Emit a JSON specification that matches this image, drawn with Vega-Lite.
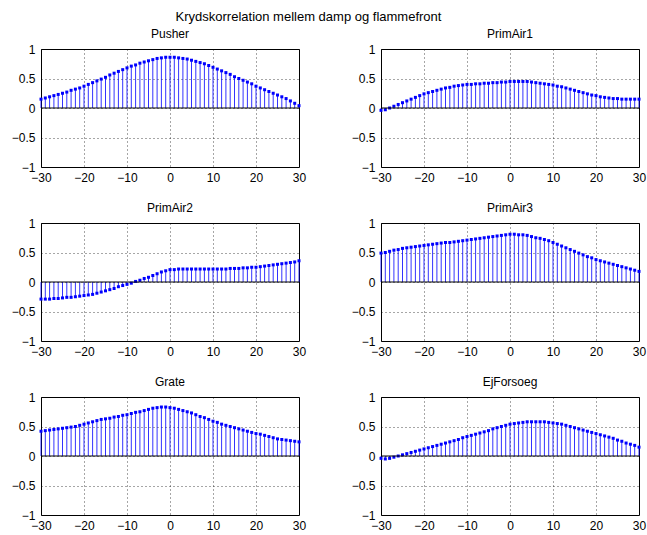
{
  "$schema": "https://vega.github.io/schema/vega-lite/v6.json",
  "background": "white",
  "padding": {"left": 10, "top": 10, "right": 5, "bottom": 5},
  "title": {"text": "Krydskorrelation mellem damp og flammefront", "fontSize": 13, "font": "Liberation Sans", "fontWeight": "normal", "anchor": "middle", "dx": -20, "offset": 4},
  "data": {"values": [
    {"p":"Pusher","x":-30,"y":0.15},{"p":"Pusher","x":-29,"y":0.17},{"p":"Pusher","x":-28,"y":0.19},{"p":"Pusher","x":-27,"y":0.21},{"p":"Pusher","x":-26,"y":0.23},{"p":"Pusher","x":-25,"y":0.25},{"p":"Pusher","x":-24,"y":0.27},{"p":"Pusher","x":-23,"y":0.30},{"p":"Pusher","x":-22,"y":0.32},{"p":"Pusher","x":-21,"y":0.34},{"p":"Pusher","x":-20,"y":0.37},{"p":"Pusher","x":-19,"y":0.40},{"p":"Pusher","x":-18,"y":0.43},{"p":"Pusher","x":-17,"y":0.46},{"p":"Pusher","x":-16,"y":0.49},{"p":"Pusher","x":-15,"y":0.52},{"p":"Pusher","x":-14,"y":0.56},{"p":"Pusher","x":-13,"y":0.59},{"p":"Pusher","x":-12,"y":0.62},{"p":"Pusher","x":-11,"y":0.65},{"p":"Pusher","x":-10,"y":0.68},{"p":"Pusher","x":-9,"y":0.71},{"p":"Pusher","x":-8,"y":0.73},{"p":"Pusher","x":-7,"y":0.76},{"p":"Pusher","x":-6,"y":0.78},{"p":"Pusher","x":-5,"y":0.80},{"p":"Pusher","x":-4,"y":0.82},{"p":"Pusher","x":-3,"y":0.84},{"p":"Pusher","x":-2,"y":0.85},{"p":"Pusher","x":-1,"y":0.86},{"p":"Pusher","x":0,"y":0.86},{"p":"Pusher","x":1,"y":0.86},{"p":"Pusher","x":2,"y":0.85},{"p":"Pusher","x":3,"y":0.84},{"p":"Pusher","x":4,"y":0.83},{"p":"Pusher","x":5,"y":0.81},{"p":"Pusher","x":6,"y":0.79},{"p":"Pusher","x":7,"y":0.77},{"p":"Pusher","x":8,"y":0.75},{"p":"Pusher","x":9,"y":0.72},{"p":"Pusher","x":10,"y":0.69},{"p":"Pusher","x":11,"y":0.66},{"p":"Pusher","x":12,"y":0.63},{"p":"Pusher","x":13,"y":0.60},{"p":"Pusher","x":14,"y":0.57},{"p":"Pusher","x":15,"y":0.53},{"p":"Pusher","x":16,"y":0.50},{"p":"Pusher","x":17,"y":0.47},{"p":"Pusher","x":18,"y":0.44},{"p":"Pusher","x":19,"y":0.41},{"p":"Pusher","x":20,"y":0.37},{"p":"Pusher","x":21,"y":0.34},{"p":"Pusher","x":22,"y":0.31},{"p":"Pusher","x":23,"y":0.28},{"p":"Pusher","x":24,"y":0.25},{"p":"Pusher","x":25,"y":0.22},{"p":"Pusher","x":26,"y":0.19},{"p":"Pusher","x":27,"y":0.16},{"p":"Pusher","x":28,"y":0.12},{"p":"Pusher","x":29,"y":0.08},{"p":"Pusher","x":30,"y":0.04},
    {"p":"PrimAir1","x":-30,"y":-0.04},{"p":"PrimAir1","x":-29,"y":-0.03},{"p":"PrimAir1","x":-28,"y":0.0},{"p":"PrimAir1","x":-27,"y":0.03},{"p":"PrimAir1","x":-26,"y":0.06},{"p":"PrimAir1","x":-25,"y":0.09},{"p":"PrimAir1","x":-24,"y":0.12},{"p":"PrimAir1","x":-23,"y":0.15},{"p":"PrimAir1","x":-22,"y":0.18},{"p":"PrimAir1","x":-21,"y":0.21},{"p":"PrimAir1","x":-20,"y":0.24},{"p":"PrimAir1","x":-19,"y":0.26},{"p":"PrimAir1","x":-18,"y":0.28},{"p":"PrimAir1","x":-17,"y":0.30},{"p":"PrimAir1","x":-16,"y":0.32},{"p":"PrimAir1","x":-15,"y":0.34},{"p":"PrimAir1","x":-14,"y":0.35},{"p":"PrimAir1","x":-13,"y":0.37},{"p":"PrimAir1","x":-12,"y":0.38},{"p":"PrimAir1","x":-11,"y":0.39},{"p":"PrimAir1","x":-10,"y":0.40},{"p":"PrimAir1","x":-9,"y":0.40},{"p":"PrimAir1","x":-8,"y":0.41},{"p":"PrimAir1","x":-7,"y":0.41},{"p":"PrimAir1","x":-6,"y":0.42},{"p":"PrimAir1","x":-5,"y":0.42},{"p":"PrimAir1","x":-4,"y":0.43},{"p":"PrimAir1","x":-3,"y":0.43},{"p":"PrimAir1","x":-2,"y":0.44},{"p":"PrimAir1","x":-1,"y":0.44},{"p":"PrimAir1","x":0,"y":0.45},{"p":"PrimAir1","x":1,"y":0.45},{"p":"PrimAir1","x":2,"y":0.45},{"p":"PrimAir1","x":3,"y":0.45},{"p":"PrimAir1","x":4,"y":0.45},{"p":"PrimAir1","x":5,"y":0.44},{"p":"PrimAir1","x":6,"y":0.43},{"p":"PrimAir1","x":7,"y":0.42},{"p":"PrimAir1","x":8,"y":0.41},{"p":"PrimAir1","x":9,"y":0.40},{"p":"PrimAir1","x":10,"y":0.39},{"p":"PrimAir1","x":11,"y":0.37},{"p":"PrimAir1","x":12,"y":0.36},{"p":"PrimAir1","x":13,"y":0.34},{"p":"PrimAir1","x":14,"y":0.32},{"p":"PrimAir1","x":15,"y":0.30},{"p":"PrimAir1","x":16,"y":0.28},{"p":"PrimAir1","x":17,"y":0.26},{"p":"PrimAir1","x":18,"y":0.24},{"p":"PrimAir1","x":19,"y":0.22},{"p":"PrimAir1","x":20,"y":0.21},{"p":"PrimAir1","x":21,"y":0.19},{"p":"PrimAir1","x":22,"y":0.18},{"p":"PrimAir1","x":23,"y":0.17},{"p":"PrimAir1","x":24,"y":0.16},{"p":"PrimAir1","x":25,"y":0.16},{"p":"PrimAir1","x":26,"y":0.15},{"p":"PrimAir1","x":27,"y":0.15},{"p":"PrimAir1","x":28,"y":0.15},{"p":"PrimAir1","x":29,"y":0.15},{"p":"PrimAir1","x":30,"y":0.15},
    {"p":"PrimAir2","x":-30,"y":-0.29},{"p":"PrimAir2","x":-29,"y":-0.29},{"p":"PrimAir2","x":-28,"y":-0.29},{"p":"PrimAir2","x":-27,"y":-0.28},{"p":"PrimAir2","x":-26,"y":-0.28},{"p":"PrimAir2","x":-25,"y":-0.27},{"p":"PrimAir2","x":-24,"y":-0.26},{"p":"PrimAir2","x":-23,"y":-0.26},{"p":"PrimAir2","x":-22,"y":-0.25},{"p":"PrimAir2","x":-21,"y":-0.24},{"p":"PrimAir2","x":-20,"y":-0.23},{"p":"PrimAir2","x":-19,"y":-0.22},{"p":"PrimAir2","x":-18,"y":-0.21},{"p":"PrimAir2","x":-17,"y":-0.19},{"p":"PrimAir2","x":-16,"y":-0.17},{"p":"PrimAir2","x":-15,"y":-0.15},{"p":"PrimAir2","x":-14,"y":-0.13},{"p":"PrimAir2","x":-13,"y":-0.11},{"p":"PrimAir2","x":-12,"y":-0.08},{"p":"PrimAir2","x":-11,"y":-0.06},{"p":"PrimAir2","x":-10,"y":-0.04},{"p":"PrimAir2","x":-9,"y":-0.02},{"p":"PrimAir2","x":-8,"y":0.01},{"p":"PrimAir2","x":-7,"y":0.03},{"p":"PrimAir2","x":-6,"y":0.06},{"p":"PrimAir2","x":-5,"y":0.08},{"p":"PrimAir2","x":-4,"y":0.11},{"p":"PrimAir2","x":-3,"y":0.14},{"p":"PrimAir2","x":-2,"y":0.17},{"p":"PrimAir2","x":-1,"y":0.19},{"p":"PrimAir2","x":0,"y":0.21},{"p":"PrimAir2","x":1,"y":0.21},{"p":"PrimAir2","x":2,"y":0.22},{"p":"PrimAir2","x":3,"y":0.22},{"p":"PrimAir2","x":4,"y":0.22},{"p":"PrimAir2","x":5,"y":0.22},{"p":"PrimAir2","x":6,"y":0.22},{"p":"PrimAir2","x":7,"y":0.22},{"p":"PrimAir2","x":8,"y":0.22},{"p":"PrimAir2","x":9,"y":0.22},{"p":"PrimAir2","x":10,"y":0.22},{"p":"PrimAir2","x":11,"y":0.22},{"p":"PrimAir2","x":12,"y":0.22},{"p":"PrimAir2","x":13,"y":0.22},{"p":"PrimAir2","x":14,"y":0.23},{"p":"PrimAir2","x":15,"y":0.23},{"p":"PrimAir2","x":16,"y":0.23},{"p":"PrimAir2","x":17,"y":0.24},{"p":"PrimAir2","x":18,"y":0.24},{"p":"PrimAir2","x":19,"y":0.25},{"p":"PrimAir2","x":20,"y":0.25},{"p":"PrimAir2","x":21,"y":0.26},{"p":"PrimAir2","x":22,"y":0.27},{"p":"PrimAir2","x":23,"y":0.28},{"p":"PrimAir2","x":24,"y":0.29},{"p":"PrimAir2","x":25,"y":0.30},{"p":"PrimAir2","x":26,"y":0.31},{"p":"PrimAir2","x":27,"y":0.32},{"p":"PrimAir2","x":28,"y":0.33},{"p":"PrimAir2","x":29,"y":0.34},{"p":"PrimAir2","x":30,"y":0.36},
    {"p":"PrimAir3","x":-30,"y":0.49},{"p":"PrimAir3","x":-29,"y":0.50},{"p":"PrimAir3","x":-28,"y":0.52},{"p":"PrimAir3","x":-27,"y":0.54},{"p":"PrimAir3","x":-26,"y":0.55},{"p":"PrimAir3","x":-25,"y":0.57},{"p":"PrimAir3","x":-24,"y":0.58},{"p":"PrimAir3","x":-23,"y":0.59},{"p":"PrimAir3","x":-22,"y":0.60},{"p":"PrimAir3","x":-21,"y":0.61},{"p":"PrimAir3","x":-20,"y":0.62},{"p":"PrimAir3","x":-19,"y":0.63},{"p":"PrimAir3","x":-18,"y":0.64},{"p":"PrimAir3","x":-17,"y":0.65},{"p":"PrimAir3","x":-16,"y":0.66},{"p":"PrimAir3","x":-15,"y":0.67},{"p":"PrimAir3","x":-14,"y":0.67},{"p":"PrimAir3","x":-13,"y":0.68},{"p":"PrimAir3","x":-12,"y":0.69},{"p":"PrimAir3","x":-11,"y":0.70},{"p":"PrimAir3","x":-10,"y":0.71},{"p":"PrimAir3","x":-9,"y":0.72},{"p":"PrimAir3","x":-8,"y":0.73},{"p":"PrimAir3","x":-7,"y":0.74},{"p":"PrimAir3","x":-6,"y":0.75},{"p":"PrimAir3","x":-5,"y":0.76},{"p":"PrimAir3","x":-4,"y":0.77},{"p":"PrimAir3","x":-3,"y":0.78},{"p":"PrimAir3","x":-2,"y":0.79},{"p":"PrimAir3","x":-1,"y":0.80},{"p":"PrimAir3","x":0,"y":0.81},{"p":"PrimAir3","x":1,"y":0.81},{"p":"PrimAir3","x":2,"y":0.80},{"p":"PrimAir3","x":3,"y":0.80},{"p":"PrimAir3","x":4,"y":0.79},{"p":"PrimAir3","x":5,"y":0.77},{"p":"PrimAir3","x":6,"y":0.75},{"p":"PrimAir3","x":7,"y":0.74},{"p":"PrimAir3","x":8,"y":0.72},{"p":"PrimAir3","x":9,"y":0.70},{"p":"PrimAir3","x":10,"y":0.67},{"p":"PrimAir3","x":11,"y":0.64},{"p":"PrimAir3","x":12,"y":0.61},{"p":"PrimAir3","x":13,"y":0.58},{"p":"PrimAir3","x":14,"y":0.55},{"p":"PrimAir3","x":15,"y":0.52},{"p":"PrimAir3","x":16,"y":0.49},{"p":"PrimAir3","x":17,"y":0.46},{"p":"PrimAir3","x":18,"y":0.43},{"p":"PrimAir3","x":19,"y":0.41},{"p":"PrimAir3","x":20,"y":0.38},{"p":"PrimAir3","x":21,"y":0.36},{"p":"PrimAir3","x":22,"y":0.34},{"p":"PrimAir3","x":23,"y":0.32},{"p":"PrimAir3","x":24,"y":0.30},{"p":"PrimAir3","x":25,"y":0.28},{"p":"PrimAir3","x":26,"y":0.26},{"p":"PrimAir3","x":27,"y":0.24},{"p":"PrimAir3","x":28,"y":0.22},{"p":"PrimAir3","x":29,"y":0.20},{"p":"PrimAir3","x":30,"y":0.18},
    {"p":"Grate","x":-30,"y":0.42},{"p":"Grate","x":-29,"y":0.43},{"p":"Grate","x":-28,"y":0.44},{"p":"Grate","x":-27,"y":0.45},{"p":"Grate","x":-26,"y":0.46},{"p":"Grate","x":-25,"y":0.47},{"p":"Grate","x":-24,"y":0.48},{"p":"Grate","x":-23,"y":0.49},{"p":"Grate","x":-22,"y":0.50},{"p":"Grate","x":-21,"y":0.52},{"p":"Grate","x":-20,"y":0.54},{"p":"Grate","x":-19,"y":0.56},{"p":"Grate","x":-18,"y":0.58},{"p":"Grate","x":-17,"y":0.60},{"p":"Grate","x":-16,"y":0.62},{"p":"Grate","x":-15,"y":0.63},{"p":"Grate","x":-14,"y":0.64},{"p":"Grate","x":-13,"y":0.66},{"p":"Grate","x":-12,"y":0.67},{"p":"Grate","x":-11,"y":0.69},{"p":"Grate","x":-10,"y":0.70},{"p":"Grate","x":-9,"y":0.72},{"p":"Grate","x":-8,"y":0.74},{"p":"Grate","x":-7,"y":0.75},{"p":"Grate","x":-6,"y":0.77},{"p":"Grate","x":-5,"y":0.79},{"p":"Grate","x":-4,"y":0.81},{"p":"Grate","x":-3,"y":0.82},{"p":"Grate","x":-2,"y":0.83},{"p":"Grate","x":-1,"y":0.83},{"p":"Grate","x":0,"y":0.82},{"p":"Grate","x":1,"y":0.81},{"p":"Grate","x":2,"y":0.79},{"p":"Grate","x":3,"y":0.77},{"p":"Grate","x":4,"y":0.75},{"p":"Grate","x":5,"y":0.73},{"p":"Grate","x":6,"y":0.70},{"p":"Grate","x":7,"y":0.67},{"p":"Grate","x":8,"y":0.65},{"p":"Grate","x":9,"y":0.62},{"p":"Grate","x":10,"y":0.59},{"p":"Grate","x":11,"y":0.57},{"p":"Grate","x":12,"y":0.54},{"p":"Grate","x":13,"y":0.52},{"p":"Grate","x":14,"y":0.50},{"p":"Grate","x":15,"y":0.48},{"p":"Grate","x":16,"y":0.46},{"p":"Grate","x":17,"y":0.44},{"p":"Grate","x":18,"y":0.42},{"p":"Grate","x":19,"y":0.40},{"p":"Grate","x":20,"y":0.38},{"p":"Grate","x":21,"y":0.37},{"p":"Grate","x":22,"y":0.35},{"p":"Grate","x":23,"y":0.33},{"p":"Grate","x":24,"y":0.31},{"p":"Grate","x":25,"y":0.29},{"p":"Grate","x":26,"y":0.28},{"p":"Grate","x":27,"y":0.27},{"p":"Grate","x":28,"y":0.26},{"p":"Grate","x":29,"y":0.25},{"p":"Grate","x":30,"y":0.24},
    {"p":"EjForsoeg","x":-30,"y":-0.04},{"p":"EjForsoeg","x":-29,"y":-0.05},{"p":"EjForsoeg","x":-28,"y":-0.04},{"p":"EjForsoeg","x":-27,"y":-0.02},{"p":"EjForsoeg","x":-26,"y":0.0},{"p":"EjForsoeg","x":-25,"y":0.02},{"p":"EjForsoeg","x":-24,"y":0.04},{"p":"EjForsoeg","x":-23,"y":0.06},{"p":"EjForsoeg","x":-22,"y":0.08},{"p":"EjForsoeg","x":-21,"y":0.10},{"p":"EjForsoeg","x":-20,"y":0.12},{"p":"EjForsoeg","x":-19,"y":0.14},{"p":"EjForsoeg","x":-18,"y":0.16},{"p":"EjForsoeg","x":-17,"y":0.18},{"p":"EjForsoeg","x":-16,"y":0.20},{"p":"EjForsoeg","x":-15,"y":0.22},{"p":"EjForsoeg","x":-14,"y":0.24},{"p":"EjForsoeg","x":-13,"y":0.26},{"p":"EjForsoeg","x":-12,"y":0.28},{"p":"EjForsoeg","x":-11,"y":0.31},{"p":"EjForsoeg","x":-10,"y":0.33},{"p":"EjForsoeg","x":-9,"y":0.35},{"p":"EjForsoeg","x":-8,"y":0.37},{"p":"EjForsoeg","x":-7,"y":0.39},{"p":"EjForsoeg","x":-6,"y":0.41},{"p":"EjForsoeg","x":-5,"y":0.43},{"p":"EjForsoeg","x":-4,"y":0.46},{"p":"EjForsoeg","x":-3,"y":0.48},{"p":"EjForsoeg","x":-2,"y":0.50},{"p":"EjForsoeg","x":-1,"y":0.52},{"p":"EjForsoeg","x":0,"y":0.54},{"p":"EjForsoeg","x":1,"y":0.55},{"p":"EjForsoeg","x":2,"y":0.56},{"p":"EjForsoeg","x":3,"y":0.57},{"p":"EjForsoeg","x":4,"y":0.58},{"p":"EjForsoeg","x":5,"y":0.58},{"p":"EjForsoeg","x":6,"y":0.58},{"p":"EjForsoeg","x":7,"y":0.58},{"p":"EjForsoeg","x":8,"y":0.58},{"p":"EjForsoeg","x":9,"y":0.57},{"p":"EjForsoeg","x":10,"y":0.56},{"p":"EjForsoeg","x":11,"y":0.55},{"p":"EjForsoeg","x":12,"y":0.54},{"p":"EjForsoeg","x":13,"y":0.52},{"p":"EjForsoeg","x":14,"y":0.50},{"p":"EjForsoeg","x":15,"y":0.48},{"p":"EjForsoeg","x":16,"y":0.46},{"p":"EjForsoeg","x":17,"y":0.44},{"p":"EjForsoeg","x":18,"y":0.42},{"p":"EjForsoeg","x":19,"y":0.40},{"p":"EjForsoeg","x":20,"y":0.38},{"p":"EjForsoeg","x":21,"y":0.36},{"p":"EjForsoeg","x":22,"y":0.34},{"p":"EjForsoeg","x":23,"y":0.32},{"p":"EjForsoeg","x":24,"y":0.30},{"p":"EjForsoeg","x":25,"y":0.27},{"p":"EjForsoeg","x":26,"y":0.25},{"p":"EjForsoeg","x":27,"y":0.22},{"p":"EjForsoeg","x":28,"y":0.20},{"p":"EjForsoeg","x":29,"y":0.18},{"p":"EjForsoeg","x":30,"y":0.15}
  ]},
  "columns": 2,
  "bounds": "flush",
  "spacing": {"row": 56, "column": 82},
  "concat": [
    {"title": {"text": "Pusher", "fontSize": 12, "offset": 2}, "width": 258, "height": 118, "transform": [{"filter": "datum.p === 'Pusher'"}],
     "layer": [
      {"mark": {"type": "rule", "color": "#0000ff", "strokeWidth": 1, "opacity": 0.8}, "encoding": {"x": {"field": "x", "type": "quantitative", "scale": {"domain": [-30, 30], "nice": false}, "axis": {"values": [-30,-20,-10,0,10,20,30], "format": "d", "title": null}}, "y": {"field": "y", "type": "quantitative", "scale": {"domain": [-1, 1], "nice": false}, "axis": {"values": [-1,-0.5,0,0.5,1], "format": "~g", "title": null}}, "y2": {"datum": 0}}},
      {"mark": {"type": "point", "filled": true, "shape": "square", "color": "#0000ff", "size": 9, "opacity": 1}, "encoding": {"x": {"field": "x", "type": "quantitative"}, "y": {"field": "y", "type": "quantitative"}}},
      {"data": {"values": [{}]}, "mark": {"type": "rule", "color": "#000000", "strokeWidth": 1}, "encoding": {"y": {"datum": 0}}}
     ]},
    {"title": {"text": "PrimAir1", "fontSize": 12, "offset": 2}, "width": 258, "height": 118, "transform": [{"filter": "datum.p === 'PrimAir1'"}],
     "layer": [
      {"mark": {"type": "rule", "color": "#0000ff", "strokeWidth": 1, "opacity": 0.8}, "encoding": {"x": {"field": "x", "type": "quantitative", "scale": {"domain": [-30, 30], "nice": false}, "axis": {"values": [-30,-20,-10,0,10,20,30], "format": "d", "title": null}}, "y": {"field": "y", "type": "quantitative", "scale": {"domain": [-1, 1], "nice": false}, "axis": {"values": [-1,-0.5,0,0.5,1], "format": "~g", "title": null}}, "y2": {"datum": 0}}},
      {"mark": {"type": "point", "filled": true, "shape": "square", "color": "#0000ff", "size": 9, "opacity": 1}, "encoding": {"x": {"field": "x", "type": "quantitative"}, "y": {"field": "y", "type": "quantitative"}}},
      {"data": {"values": [{}]}, "mark": {"type": "rule", "color": "#000000", "strokeWidth": 1}, "encoding": {"y": {"datum": 0}}}
     ]},
    {"title": {"text": "PrimAir2", "fontSize": 12, "offset": 2}, "width": 258, "height": 118, "transform": [{"filter": "datum.p === 'PrimAir2'"}],
     "layer": [
      {"mark": {"type": "rule", "color": "#0000ff", "strokeWidth": 1, "opacity": 0.8}, "encoding": {"x": {"field": "x", "type": "quantitative", "scale": {"domain": [-30, 30], "nice": false}, "axis": {"values": [-30,-20,-10,0,10,20,30], "format": "d", "title": null}}, "y": {"field": "y", "type": "quantitative", "scale": {"domain": [-1, 1], "nice": false}, "axis": {"values": [-1,-0.5,0,0.5,1], "format": "~g", "title": null}}, "y2": {"datum": 0}}},
      {"mark": {"type": "point", "filled": true, "shape": "square", "color": "#0000ff", "size": 9, "opacity": 1}, "encoding": {"x": {"field": "x", "type": "quantitative"}, "y": {"field": "y", "type": "quantitative"}}},
      {"data": {"values": [{}]}, "mark": {"type": "rule", "color": "#000000", "strokeWidth": 1}, "encoding": {"y": {"datum": 0}}}
     ]},
    {"title": {"text": "PrimAir3", "fontSize": 12, "offset": 2}, "width": 258, "height": 118, "transform": [{"filter": "datum.p === 'PrimAir3'"}],
     "layer": [
      {"mark": {"type": "rule", "color": "#0000ff", "strokeWidth": 1, "opacity": 0.8}, "encoding": {"x": {"field": "x", "type": "quantitative", "scale": {"domain": [-30, 30], "nice": false}, "axis": {"values": [-30,-20,-10,0,10,20,30], "format": "d", "title": null}}, "y": {"field": "y", "type": "quantitative", "scale": {"domain": [-1, 1], "nice": false}, "axis": {"values": [-1,-0.5,0,0.5,1], "format": "~g", "title": null}}, "y2": {"datum": 0}}},
      {"mark": {"type": "point", "filled": true, "shape": "square", "color": "#0000ff", "size": 9, "opacity": 1}, "encoding": {"x": {"field": "x", "type": "quantitative"}, "y": {"field": "y", "type": "quantitative"}}},
      {"data": {"values": [{}]}, "mark": {"type": "rule", "color": "#000000", "strokeWidth": 1}, "encoding": {"y": {"datum": 0}}}
     ]},
    {"title": {"text": "Grate", "fontSize": 12, "offset": 2}, "width": 258, "height": 118, "transform": [{"filter": "datum.p === 'Grate'"}],
     "layer": [
      {"mark": {"type": "rule", "color": "#0000ff", "strokeWidth": 1, "opacity": 0.8}, "encoding": {"x": {"field": "x", "type": "quantitative", "scale": {"domain": [-30, 30], "nice": false}, "axis": {"values": [-30,-20,-10,0,10,20,30], "format": "d", "title": null}}, "y": {"field": "y", "type": "quantitative", "scale": {"domain": [-1, 1], "nice": false}, "axis": {"values": [-1,-0.5,0,0.5,1], "format": "~g", "title": null}}, "y2": {"datum": 0}}},
      {"mark": {"type": "point", "filled": true, "shape": "square", "color": "#0000ff", "size": 9, "opacity": 1}, "encoding": {"x": {"field": "x", "type": "quantitative"}, "y": {"field": "y", "type": "quantitative"}}},
      {"data": {"values": [{}]}, "mark": {"type": "rule", "color": "#000000", "strokeWidth": 1}, "encoding": {"y": {"datum": 0}}}
     ]},
    {"title": {"text": "EjForsoeg", "fontSize": 12, "offset": 2}, "width": 258, "height": 118, "transform": [{"filter": "datum.p === 'EjForsoeg'"}],
     "layer": [
      {"mark": {"type": "rule", "color": "#0000ff", "strokeWidth": 1, "opacity": 0.8}, "encoding": {"x": {"field": "x", "type": "quantitative", "scale": {"domain": [-30, 30], "nice": false}, "axis": {"values": [-30,-20,-10,0,10,20,30], "format": "d", "title": null}}, "y": {"field": "y", "type": "quantitative", "scale": {"domain": [-1, 1], "nice": false}, "axis": {"values": [-1,-0.5,0,0.5,1], "format": "~g", "title": null}}, "y2": {"datum": 0}}},
      {"mark": {"type": "point", "filled": true, "shape": "square", "color": "#0000ff", "size": 9, "opacity": 1}, "encoding": {"x": {"field": "x", "type": "quantitative"}, "y": {"field": "y", "type": "quantitative"}}},
      {"data": {"values": [{}]}, "mark": {"type": "rule", "color": "#000000", "strokeWidth": 1}, "encoding": {"y": {"datum": 0}}}
     ]}
  ],
  "config": {
    "font": "Liberation Sans",
    "view": {"stroke": "#000000", "strokeWidth": 1},
    "title": {"font": "Liberation Sans", "fontWeight": "normal", "color": "#000000"},
    "axis": {"labelFont": "Liberation Sans", "labelFontSize": 12, "labelColor": "#000000", "ticks": false, "domain": false, "labelPadding": 6, "labelOverlap": false, "labelFlush": false, "grid": true, "gridColor": "#000000", "gridOpacity": 0.7, "gridDash": [1, 3], "gridWidth": 1},
    "axisX": {"labelPadding": 5, "tickCount": 7},
    "axisY": {"tickCount": 5}
  }
}
